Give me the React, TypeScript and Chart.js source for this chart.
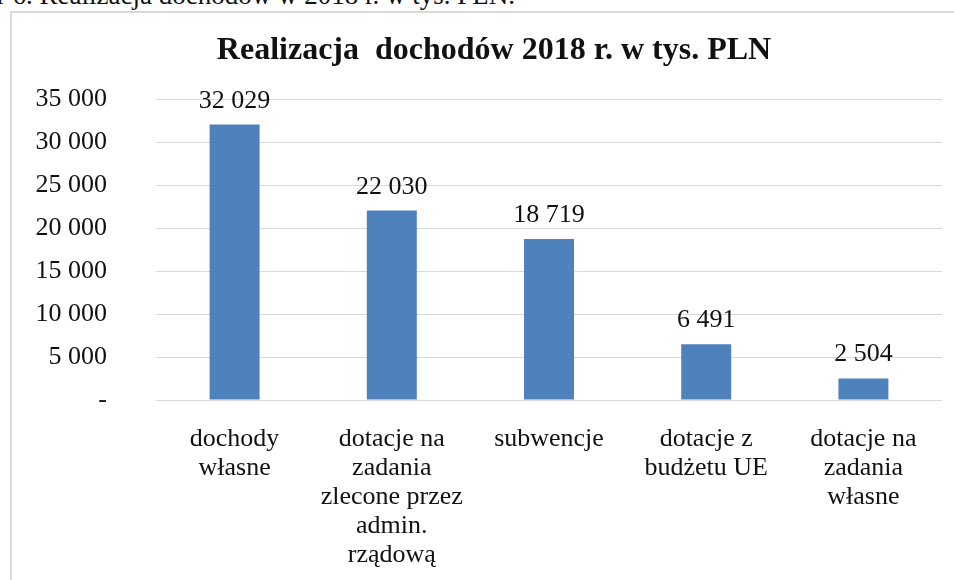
import React, { useEffect, useRef } from "react";
import { Chart, registerables } from "chart.js";

Chart.register(...registerables);

const categories: string[][] = [
  ["dochody", "własne"],
  ["dotacje na", "zadania", "zlecone przez", "admin.", "rządową"],
  ["subwencje"],
  ["dotacje z", "budżetu UE"],
  ["dotacje na", "zadania", "własne"],
];
const values: number[] = [32029, 22030, 18719, 6491, 2504];
const yTicks: number[] = [0, 5000, 10000, 15000, 20000, 25000, 30000, 35000];

const chartTitle = "Realizacja  dochodów 2018 r. w tys. PLN";
const caption = "Wykres nr 6. Realizacja dochodów w 2018 r. w tys. PLN.";

const SERIF = "'Liberation Serif', 'Times New Roman', serif";

function fmt(v: number): string {
  if (v === 0) return "-";
  return String(v).replace(/\B(?=(\d{3})+(?!\d))/g, " ");
}

const dataLabels = {
  id: "dataLabels",
  afterDatasetsDraw(chart: any) {
    const ctx = chart.ctx;
    const meta = chart.getDatasetMeta(0);
    ctx.save();
    ctx.font = `26px ${SERIF}`;
    ctx.fillStyle = "#111";
    ctx.textAlign = "center";
    ctx.textBaseline = "alphabetic";
    meta.data.forEach((bar: any, i: number) => {
      ctx.fillText(fmt(values[i]), bar.x, bar.y - 17);
    });
    ctx.restore();
  },
};

const titlePlugin = {
  id: "titleText",
  afterDraw(chart: any) {
    const ctx = chart.ctx;
    ctx.save();
    ctx.font = `bold 32px ${SERIF}`;
    ctx.fillStyle = "#111";
    ctx.textAlign = "center";
    ctx.textBaseline = "alphabetic";
    ctx.fillText(chartTitle, 494, 59);
    ctx.restore();
  },
};

export default function App() {
  const ref = useRef<HTMLCanvasElement | null>(null);

  useEffect(() => {
    if (!ref.current) return;
    const chart = new Chart(ref.current, {
      type: "bar",
      data: {
        labels: categories,
        datasets: [
          {
            data: values,
            backgroundColor: "#4F81BD",
            borderWidth: 0,
            barPercentage: 0.318,
            categoryPercentage: 1,
          },
        ],
      },
      options: {
        responsive: false,
        animation: false,
        layout: { padding: { top: 99, right: 12, bottom: 0, left: 0 } },
        plugins: {
          legend: { display: false },
          tooltip: { enabled: false },
          title: { display: false },
        },
        scales: {
          x: {
            grid: { display: false, drawTicks: false },
            border: { display: false },
            ticks: {
              color: "#111",
              font: { family: SERIF, size: 26, lineHeight: "29px" } as any,
              padding: 25,
              maxRotation: 0,
              autoSkip: false,
            },
            afterFit(scale: any) {
              scale.height = 180;
            },
          },
          y: {
            min: 0,
            max: 35000,
            afterBuildTicks(scale: any) {
              scale.ticks = yTicks.map((v) => ({ value: v }));
            },
            grid: { color: "#d9d9d9", lineWidth: 1, drawTicks: false },
            border: { display: false },
            ticks: {
              color: "#111",
              font: { family: SERIF, size: 26 },
              padding: 49,
              callback: (v: any) => fmt(Number(v)),
            },
            afterFit(scale: any) {
              scale.width = 156;
            },
          },
        },
      },
      plugins: [dataLabels, titlePlugin],
    });
    return () => chart.destroy();
  }, []);

  return (
    <div
      style={{
        position: "fixed",
        top: 0,
        left: 0,
        width: 954,
        height: 580,
        overflow: "hidden",
        background: "#fff",
      }}
    >
      <span
        style={{
          position: "absolute",
          top: -18,
          right: 954 - 515,
          whiteSpace: "nowrap",
          fontFamily: SERIF,
          fontSize: 27,
          lineHeight: "27px",
          color: "#111",
        }}
      >
        {caption}
      </span>
      <div
        style={{
          position: "absolute",
          left: 10,
          top: 11,
          width: 1200,
          height: 1200,
          border: "2px solid #d9d9d9",
          boxSizing: "border-box",
        }}
      />
      <canvas
        ref={ref}
        width={954}
        height={580}
        style={{ position: "absolute", left: 0, top: 0, width: 954, height: 580 }}
      />
    </div>
  );
}
